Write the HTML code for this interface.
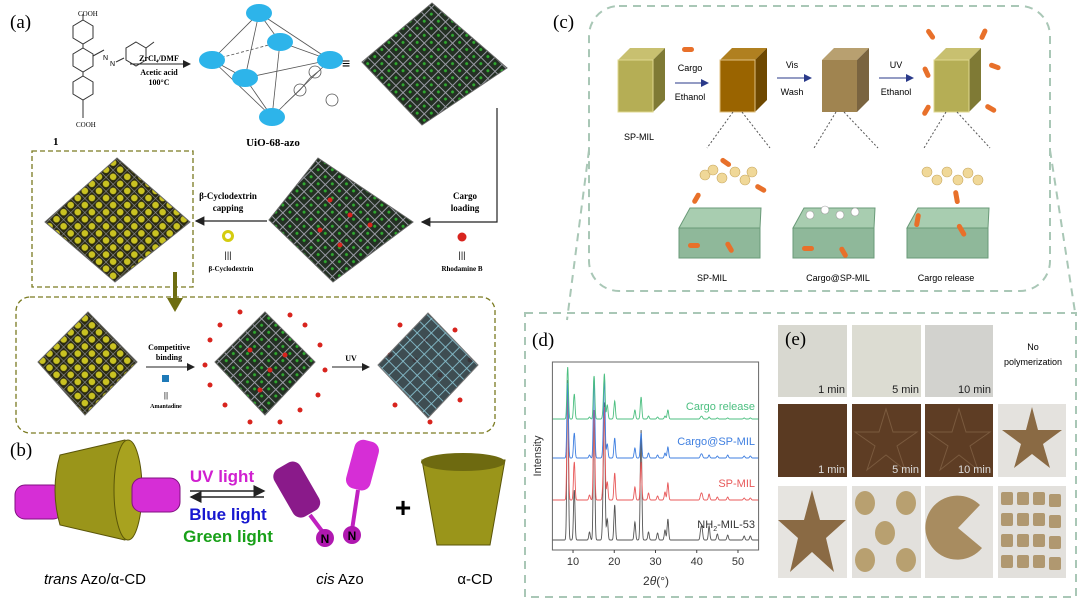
<!DOCTYPE html>
<html><head><meta charset="utf-8"><style>
html,body{margin:0;padding:0;background:#fff;}
svg{display:block;font-family:"Liberation Sans",sans-serif;}
.serif{font-family:"Liberation Serif",serif;}
</style></head><body>
<svg id="fig" width="1080" height="601" viewBox="0 0 1080 601" xmlns="http://www.w3.org/2000/svg">
<defs>
<pattern id="lat" width="10" height="10" patternUnits="userSpaceOnUse" patternTransform="rotate(45)">
<rect width="10" height="10" fill="#243024"/><path d="M0 0H10M0 0V10" stroke="#9a9aa5" stroke-width="2"/><circle cx="5" cy="5" r="1.5" fill="#2faa2f"/>
</pattern>
<pattern id="latY" width="10" height="10" patternUnits="userSpaceOnUse" patternTransform="rotate(45)">
<rect width="10" height="10" fill="#2a2a10"/><path d="M0 0H10M0 0V10" stroke="#8a8a95" stroke-width="1.2"/><circle cx="5" cy="5" r="3.3" fill="#c9c222"/>
</pattern>
<pattern id="latC" width="10" height="10" patternUnits="userSpaceOnUse" patternTransform="rotate(45)">
<rect width="10" height="10" fill="#2a3a40"/><path d="M0 0H10M0 0V10" stroke="#7ab8c8" stroke-width="1.8"/>
</pattern>
<marker id="ah" markerWidth="8" markerHeight="8" refX="7" refY="4" orient="auto"><path d="M0 0L8 4L0 8z" fill="#222"/></marker>
<marker id="ahb" markerWidth="8" markerHeight="8" refX="7" refY="4" orient="auto"><path d="M0 0L8 4L0 8z" fill="#2a3a8a"/></marker>
</defs>

<!-- PANEL A -->
<g>
<text x="10" y="28" class="serif" font-size="19">(a)</text>
<g stroke="#333" fill="none" stroke-width="1">
<polygon points="83,20 93,26 93,38 83,44 73,38 73,26"/>
<polygon points="83,48 93,54 93,66 83,72 73,66 73,54"/>
<polygon points="83,76 93,82 93,94 83,100 73,94 73,82"/>
<line x1="83" y1="14" x2="83" y2="20"/><line x1="83" y1="44" x2="83" y2="48"/><line x1="83" y1="72" x2="83" y2="76"/><line x1="83" y1="100" x2="83" y2="118"/>
<line x1="93" y1="56" x2="104" y2="50"/><line x1="116" y1="62" x2="124" y2="58"/>
<polygon points="136,48 146,54 146,66 136,72 126,66 126,54" transform="translate(0,-6)"/>
<line x1="146" y1="48" x2="154" y2="42"/>
</g>
<text x="78" y="16" font-size="7" class="serif">COOH</text>
<text x="76" y="127" font-size="7" class="serif">COOH</text>
<text x="103" y="60" font-size="7">N</text><text x="110" y="66" font-size="7">N</text>
<text x="53" y="145" class="serif" font-size="11" font-weight="bold">1</text>
<text x="159" y="61" class="serif" font-size="8" font-weight="bold" text-anchor="middle">ZrCl₄/DMF</text>
<line x1="130" y1="64" x2="190" y2="64" stroke="#222" marker-end="url(#ah)"/>
<text x="159" y="75" class="serif" font-size="8" font-weight="bold" text-anchor="middle">Acetic acid</text>
<text x="159" y="85" class="serif" font-size="8" font-weight="bold" text-anchor="middle">100°C</text>
<g stroke="#555" stroke-width="0.8">
<line x1="259" y1="13" x2="212" y2="60"/><line x1="259" y1="13" x2="330" y2="60"/><line x1="259" y1="13" x2="245" y2="78"/><line x1="259" y1="13" x2="280" y2="42"/>
<line x1="272" y1="117" x2="212" y2="60"/><line x1="272" y1="117" x2="330" y2="60"/><line x1="272" y1="117" x2="245" y2="78"/><line x1="272" y1="117" x2="280" y2="42"/>
<line x1="212" y1="60" x2="245" y2="78"/><line x1="245" y1="78" x2="330" y2="60"/><line x1="212" y1="60" x2="280" y2="42" stroke-dasharray="3,2"/><line x1="280" y1="42" x2="330" y2="60"/>
<g fill="#2db4ea" stroke="none">
<ellipse cx="259" cy="13" rx="13" ry="9"/><ellipse cx="280" cy="42" rx="13" ry="9"/><ellipse cx="212" cy="60" rx="13" ry="9"/><ellipse cx="330" cy="60" rx="13" ry="9"/><ellipse cx="245" cy="78" rx="13" ry="9"/><ellipse cx="272" cy="117" rx="13" ry="9"/>
</g>
<path d="M285 104 L300 90 L310 78 L320 70" fill="none"/><circle cx="300" cy="90" r="6" fill="none"/><circle cx="315" cy="72" r="6" fill="none"/><circle cx="332" cy="100" r="6" fill="none"/>
</g>
<text x="273" y="146" class="serif" font-size="11" font-weight="bold" text-anchor="middle">UiO-68-azo</text>
<text x="342" y="68" font-size="14">≡</text>
<polygon points="432,3 507,68 422,125 362,62" fill="url(#lat)" stroke="#666"/>
<polyline points="497,108 497,222 422,222" fill="none" stroke="#222" stroke-width="1.2" marker-end="url(#ah)"/>
<text x="465" y="199" class="serif" font-size="9" font-weight="bold" text-anchor="middle">Cargo</text>
<text x="465" y="211" class="serif" font-size="9" font-weight="bold" text-anchor="middle">loading</text>
<circle cx="462" cy="237" r="4.5" fill="#d8241e"/>
<text x="462" y="258" font-size="9" text-anchor="middle">|||</text>
<text x="462" y="271" class="serif" font-size="7" font-weight="bold" text-anchor="middle">Rhodamine B</text>
<polygon points="318,158 413,222 333,282 269,220" fill="url(#lat)" stroke="#666"/>
<g fill="#d8241e"><circle cx="330" cy="200" r="2.5"/><circle cx="350" cy="215" r="2.5"/><circle cx="320" cy="230" r="2.5"/><circle cx="370" cy="225" r="2.5"/><circle cx="340" cy="245" r="2.5"/></g>
<line x1="267" y1="221" x2="196" y2="221" stroke="#222" stroke-width="1.2" marker-end="url(#ah)"/>
<text x="228" y="199" class="serif" font-size="9" font-weight="bold" text-anchor="middle">β-Cyclodextrin</text>
<text x="228" y="211" class="serif" font-size="9" font-weight="bold" text-anchor="middle">capping</text>
<circle cx="228" cy="236" r="4.5" fill="none" stroke="#d4cc10" stroke-width="3"/>
<text x="228" y="258" font-size="9" text-anchor="middle">|||</text>
<text x="231" y="271" class="serif" font-size="7" font-weight="bold" text-anchor="middle">β-Cyclodextrin</text>
<rect x="32" y="151" width="161" height="136" fill="none" stroke="#7a7a20" stroke-width="1.3" stroke-dasharray="5,3"/>
<polygon points="117,158 190,222 115,282 45,222" fill="url(#latY)" stroke="#666"/>
<line x1="175" y1="272" x2="175" y2="300" stroke="#6d6d10" stroke-width="4"/>
<polygon points="167,298 183,298 175,312" fill="#6d6d10"/>
<rect x="16" y="297" width="479" height="136" rx="14" fill="none" stroke="#7a7a20" stroke-width="1.3" stroke-dasharray="5,3"/>
<polygon points="88,312 137,362 85,415 38,362" fill="url(#latY)" stroke="#666"/>
<line x1="146" y1="367" x2="194" y2="367" stroke="#222" marker-end="url(#ah)"/>
<text x="169" y="350" class="serif" font-size="8" font-weight="bold" text-anchor="middle">Competitive</text>
<text x="169" y="360" class="serif" font-size="8" font-weight="bold" text-anchor="middle">binding</text>
<rect x="162" y="375" width="7" height="7" fill="#1e7ab8"/>
<text x="166" y="398" font-size="8" text-anchor="middle">||</text>
<text x="166" y="408" class="serif" font-size="6" font-weight="bold" text-anchor="middle">Amantadine</text>
<polygon points="265,312 315,362 265,415 215,362" fill="url(#lat)" stroke="#666"/>
<g fill="#d8241e">
<circle cx="210" cy="340" r="2.5"/><circle cx="220" cy="325" r="2.5"/><circle cx="240" cy="312" r="2.5"/><circle cx="290" cy="315" r="2.5"/><circle cx="305" cy="325" r="2.5"/><circle cx="320" cy="345" r="2.5"/><circle cx="325" cy="370" r="2.5"/><circle cx="318" cy="395" r="2.5"/><circle cx="300" cy="410" r="2.5"/><circle cx="280" cy="422" r="2.5"/><circle cx="250" cy="422" r="2.5"/><circle cx="225" cy="405" r="2.5"/><circle cx="210" cy="385" r="2.5"/><circle cx="205" cy="365" r="2.5"/><circle cx="250" cy="350" r="2.5"/><circle cx="270" cy="370" r="2.5"/><circle cx="260" cy="390" r="2.5"/><circle cx="285" cy="355" r="2.5"/>
<circle cx="390" cy="355" r="2.5"/><circle cx="400" cy="325" r="2.5"/><circle cx="455" cy="330" r="2.5"/><circle cx="470" cy="360" r="2.5"/><circle cx="460" cy="400" r="2.5"/><circle cx="430" cy="422" r="2.5"/><circle cx="395" cy="405" r="2.5"/><circle cx="415" cy="360" r="2.5"/><circle cx="440" cy="375" r="2.5"/><circle cx="425" cy="340" r="2.5"/></g>
<line x1="332" y1="367" x2="369" y2="367" stroke="#222" marker-end="url(#ah)"/>
<text x="351" y="361" class="serif" font-size="8" font-weight="bold" text-anchor="middle">UV</text>
<polygon points="428,313 478,365 428,418 378,365" fill="url(#latC)" stroke="#666" opacity="0.9"/>
</g>

<!-- PANEL B -->
<g>
<text x="10" y="456" class="serif" font-size="19">(b)</text>
<rect x="15" y="485" width="48" height="34" rx="10" fill="#d62ed6" stroke="#801080"/>
<path d="M60 455 L125 440 Q145 490 125 540 L60 525 Q50 490 60 455 Z" fill="#9a951a" stroke="#5a5508"/>
<ellipse cx="128" cy="490" rx="14" ry="50" fill="#a8a21f" stroke="#5a5508"/>
<rect x="132" y="478" width="48" height="34" rx="10" fill="#d62ed6" stroke="#801080"/>
<text x="222" y="482" font-size="17" font-weight="bold" fill="#d020d0" text-anchor="middle">UV light</text>
<line x1="190" y1="491" x2="264" y2="491" stroke="#222" stroke-width="1.5" marker-end="url(#ah)"/>
<line x1="264" y1="497" x2="191" y2="497" stroke="#222" stroke-width="1.5" marker-end="url(#ah)"/>
<text x="228" y="520" font-size="17" font-weight="bold" fill="#1818d0" text-anchor="middle">Blue light</text>
<text x="228" y="542" font-size="17" font-weight="bold" fill="#18a018" text-anchor="middle">Green light</text>
<g>
<rect x="282" y="462" width="30" height="55" rx="9" fill="#8a1a8a" transform="rotate(-30 297 490)"/>
<rect x="350" y="440" width="25" height="50" rx="9" fill="#d62ed6" transform="rotate(15 362 465)"/>
<line x1="310" y1="515" x2="325" y2="535" stroke="#c020c0" stroke-width="4"/><line x1="358" y1="490" x2="352" y2="530" stroke="#c020c0" stroke-width="4"/>
<circle cx="325" cy="538" r="9" fill="#b018b0"/><circle cx="352" cy="535" r="9" fill="#b018b0"/>
<text x="325" y="543" font-size="12" font-weight="bold" text-anchor="middle">N</text><text x="352" y="540" font-size="12" font-weight="bold" text-anchor="middle">N</text>
</g>
<text x="403" y="517" font-size="28" font-weight="bold" text-anchor="middle">+</text>
<path d="M422 460 L505 460 L490 545 L437 545 Z" fill="#9a951a" stroke="#5a5508"/>
<ellipse cx="463" cy="462" rx="42" ry="9" fill="#6e6a10"/>
<text x="95" y="584" font-size="15" text-anchor="middle"><tspan font-style="italic">trans</tspan> Azo/α-CD</text>
<text x="340" y="584" font-size="15" text-anchor="middle"><tspan font-style="italic">cis</tspan> Azo</text>
<text x="475" y="584" font-size="15" text-anchor="middle">α-CD</text>
</g>

<!-- PANEL C -->
<g>
<text x="553" y="28" class="serif" font-size="19">(c)</text>
<rect x="589" y="6" width="461" height="285" rx="30" fill="none" stroke="#a9c7b6" stroke-width="2" stroke-dasharray="8,6"/>
<path d="M589 150 L567 320 M1050 150 L1075 312" stroke="#a9c7b6" stroke-width="2" stroke-dasharray="8,6" fill="none"/>
<g><polygon points="618,60 630,48 665,48 653,60" fill="#c8c070"/><polygon points="653,60 665,48 665,100 653,112" fill="#7f7a35"/><rect x="618" y="60" width="35" height="52" fill="#b5ae55" stroke="#e0d890"/></g>
<g><polygon points="720,60 732,48 767,48 755,60" fill="#b08020"/><polygon points="755,60 767,48 767,100 755,112" fill="#6e4800"/><rect x="720" y="60" width="35" height="52" fill="#9a6400" stroke="#e0c080"/></g>
<g><polygon points="822,60 834,48 869,48 857,60" fill="#b8a070"/><polygon points="857,60 869,48 869,100 857,112" fill="#7a6440"/><rect x="822" y="60" width="35" height="52" fill="#a08450"/></g>
<g><polygon points="934,60 946,48 981,48 969,60" fill="#c8c070"/><polygon points="969,60 981,48 981,100 969,112" fill="#7f7a35"/><rect x="934" y="60" width="35" height="52" fill="#b5ae55" stroke="#e0d890"/></g>
<g fill="#e8702a"><rect x="682" y="47" width="12" height="5" rx="2.5"/>
<rect x="925" y="32" width="12" height="5" rx="2.5" transform="rotate(55 931 34)"/><rect x="977" y="32" width="12" height="5" rx="2.5" transform="rotate(-65 983 34)"/><rect x="989" y="64" width="12" height="5" rx="2.5" transform="rotate(20 995 66)"/><rect x="921" y="70" width="12" height="5" rx="2.5" transform="rotate(65 927 72)"/><rect x="920" y="108" width="12" height="5" rx="2.5" transform="rotate(-60 926 110)"/><rect x="985" y="106" width="12" height="5" rx="2.5" transform="rotate(30 991 108)"/></g>
<text x="690" y="71" font-size="9" text-anchor="middle">Cargo</text>
<line x1="675" y1="83" x2="708" y2="83" stroke="#2a3a8a" marker-end="url(#ahb)"/>
<text x="690" y="100" font-size="9" text-anchor="middle">Ethanol</text>
<text x="792" y="68" font-size="9" text-anchor="middle">Vis</text>
<line x1="777" y1="78" x2="811" y2="78" stroke="#2a3a8a" marker-end="url(#ahb)"/>
<text x="792" y="95" font-size="9" text-anchor="middle">Wash</text>
<text x="896" y="68" font-size="9" text-anchor="middle">UV</text>
<line x1="879" y1="78" x2="913" y2="78" stroke="#2a3a8a" marker-end="url(#ahb)"/>
<text x="896" y="95" font-size="9" text-anchor="middle">Ethanol</text>
<text x="639" y="140" font-size="9" text-anchor="middle">SP-MIL</text>
<g stroke="#555" stroke-dasharray="2,2" fill="none"><path d="M733 112 L707 148 M742 112 L770 148 M836 112 L814 148 M844 112 L878 148 M946 112 L924 148 M957 112 L990 148"/></g>
<g fill="#8fb89a" stroke="#6a9a78">
<polygon points="679,228 760,228 760,258 679,258"/><polygon points="679,228 690,208 761,208 760,228" fill="#a8cdb0"/>
<polygon points="793,228 874,228 874,258 793,258"/><polygon points="793,228 804,208 875,208 874,228" fill="#a8cdb0"/>
<polygon points="907,228 988,228 988,258 907,258"/><polygon points="907,228 918,208 989,208 988,228" fill="#a8cdb0"/>
</g>
<g fill="#f0d898" stroke="#c8a860" stroke-width="0.6"><circle cx="705" cy="175" r="5"/><circle cx="713" cy="170" r="5"/><circle cx="722" cy="178" r="5"/><circle cx="735" cy="172" r="5"/><circle cx="745" cy="180" r="5"/><circle cx="752" cy="172" r="5"/>
<circle cx="927" cy="172" r="5"/><circle cx="937" cy="180" r="5"/><circle cx="947" cy="172" r="5"/><circle cx="958" cy="180" r="5"/><circle cx="968" cy="173" r="5"/><circle cx="978" cy="180" r="5"/></g>
<g fill="#fff" stroke="#999" stroke-width="0.6"><circle cx="810" cy="215" r="4"/><circle cx="825" cy="210" r="4"/><circle cx="840" cy="215" r="4"/><circle cx="855" cy="212" r="4"/></g>
<g fill="#e8702a"><rect x="720" y="160" width="12" height="5" rx="2.5" transform="rotate(35 726 162)"/><rect x="690" y="196" width="12" height="5" rx="2.5" transform="rotate(-60 696 198)"/><rect x="755" y="186" width="12" height="5" rx="2.5" transform="rotate(30 761 188)"/><rect x="688" y="243" width="12" height="5" rx="2.5"/><rect x="724" y="245" width="12" height="5" rx="2.5" transform="rotate(60 730 247)"/><rect x="802" y="246" width="12" height="5" rx="2.5"/><rect x="838" y="250" width="12" height="5" rx="2.5" transform="rotate(60 844 252)"/><rect x="950" y="195" width="14" height="5" rx="2.5" transform="rotate(80 957 197)"/><rect x="910" y="218" width="14" height="5" rx="2.5" transform="rotate(-80 917 220)"/><rect x="955" y="228" width="14" height="5" rx="2.5" transform="rotate(60 962 230)"/></g>
<text x="712" y="281" font-size="9" text-anchor="middle">SP-MIL</text>
<text x="838" y="281" font-size="9" text-anchor="middle">Cargo@SP-MIL</text>
<text x="946" y="281" font-size="9" text-anchor="middle">Cargo release</text>
</g>

<!-- PANEL D/E frame -->
<rect x="525" y="313" width="551" height="284" fill="none" stroke="#a9c7b6" stroke-width="2" stroke-dasharray="8,6"/>
<text x="532" y="346" class="serif" font-size="19">(d)</text>
<g id="chart"></g>

<!-- PANEL E -->
<g>
<rect x="778" y="325" width="69" height="72" fill="#d8d8d0"/>
<rect x="852" y="325" width="69" height="72" fill="#dcdcd2"/>
<rect x="925" y="325" width="68" height="72" fill="#d2d2ce"/>
<text x="785" y="345" class="serif" font-size="19">(e)</text>
<g font-size="11" fill="#222" text-anchor="end"><text x="845" y="393">1 min</text><text x="919" y="393">5 min</text><text x="991" y="393">10 min</text></g>
<text x="1033" y="350" font-size="9" text-anchor="middle">No</text>
<text x="1033" y="365" font-size="9" text-anchor="middle">polymerization</text>
<rect x="778" y="404" width="69" height="73" fill="#5a3a22"/>
<rect x="852" y="404" width="69" height="73" fill="#5e3d24"/>
<rect x="925" y="404" width="68" height="73" fill="#5e3d24"/>
<polygon points="886,409 893,432 917,432 897,446 905,470 886,455 867,470 875,446 855,432 879,432" fill="none" stroke="#7a5a3e"/>
<polygon points="959,409 966,432 990,432 970,446 978,470 959,455 940,470 948,446 928,432 952,432" fill="none" stroke="#7a5a3e"/>
<g font-size="11" fill="#ddd" text-anchor="end"><text x="845" y="473">1 min</text><text x="919" y="473">5 min</text><text x="991" y="473">10 min</text></g>
<rect x="998" y="404" width="68" height="73" fill="#e4e2de"/>
<polygon points="1032,407 1038,430 1062,430 1043,444 1050,468 1032,454 1014,468 1021,444 1002,430 1026,430" fill="#8a6a44"/>
<rect x="778" y="486" width="69" height="92" fill="#e6e4e0"/>
<polygon points="812,490 820,520 846,520 826,538 834,572 812,552 790,572 798,538 778,520 804,520" fill="#8a6a44"/>
<rect x="852" y="486" width="69" height="92" fill="#e2e0dc"/>
<g fill="#b8a070"><ellipse cx="865" cy="503" rx="10" ry="12"/><ellipse cx="906" cy="503" rx="10" ry="12"/><ellipse cx="885" cy="533" rx="10" ry="12"/><ellipse cx="865" cy="560" rx="10" ry="12"/><ellipse cx="906" cy="560" rx="10" ry="12"/></g>
<rect x="925" y="486" width="68" height="92" fill="#e4e2de"/>
<path d="M980 505 A 32 32 0 1 0 982 548 L958 528 Z" fill="#a88c60"/>
<rect x="998" y="486" width="68" height="92" fill="#e2e0dc"/>
<g fill="#b09870">
<rect x="1001" y="492" width="12" height="13" rx="2"/><rect x="1017" y="492" width="12" height="13" rx="2"/><rect x="1033" y="492" width="12" height="13" rx="2"/><rect x="1049" y="494" width="12" height="13" rx="2"/>
<rect x="1001" y="513" width="12" height="13" rx="2"/><rect x="1017" y="513" width="12" height="13" rx="2"/><rect x="1033" y="513" width="12" height="13" rx="2"/><rect x="1049" y="515" width="12" height="13" rx="2"/>
<rect x="1001" y="534" width="12" height="13" rx="2"/><rect x="1017" y="534" width="12" height="13" rx="2"/><rect x="1033" y="534" width="12" height="13" rx="2"/><rect x="1049" y="536" width="12" height="13" rx="2"/>
<rect x="1001" y="555" width="12" height="13" rx="2"/><rect x="1017" y="555" width="12" height="13" rx="2"/><rect x="1033" y="555" width="12" height="13" rx="2"/><rect x="1049" y="557" width="12" height="13" rx="2"/></g>
</g>
</svg>
<script>
const peakPositions = [8.7,10.3,14,15.1,17.3,17.6,18.3,20.1,25,26.5,28.3,30.5,32.3,33,41,41.3,43,45,47.5,51.5,53];
const blackHeights = [160,50,8,130,30,130,21,35,18,110,8,7,10,21,10,10,14,6,5,4,4];
const redHeights   = [110,38,5,90,12,90,18,27,13,38,7,4,8,17,5,5,6,3,3,2,2];
const blueHeights  = [75,25,3,80,8,80,14,20,10,25,5,3,5,11,3,3,3,2,3,2,2];
const greenHeights = [52,25,2,43,5,44,14,18,9,22,3,2,3,9,2,2,2,1,1,1,1];
const seriesBaselines = [10,50,92,131];
const seriesNames = ["NH2-MIL-53","SP-MIL","Cargo@SP-MIL","Cargo release"];
const xTicks = [10,20,30,40,50];
const NS="http://www.w3.org/2000/svg";
const X0=552.4,X1=758.6,Y0=550,Y1=362,xmin=5,xmax=55;
function xs(v){return X0+(v-xmin)/(xmax-xmin)*(X1-X0);}
function ys(v){return Y0-v;}
const g=document.getElementById('chart');
function mk(t,a){const e=document.createElementNS(NS,t);for(const k in a)e.setAttribute(k,a[k]);g.appendChild(e);return e;}
const clip=document.createElementNS(NS,'clipPath');clip.setAttribute('id','pc');
const cr=document.createElementNS(NS,'rect');cr.setAttribute('x',X0);cr.setAttribute('y',Y1);cr.setAttribute('width',X1-X0);cr.setAttribute('height',Y0-Y1);clip.appendChild(cr);g.appendChild(clip);
const colors=["#555","#e8595a","#3f7fe0","#4cbf80"];
const heights=[blackHeights,redHeights,blueHeights,greenHeights];
for(let s=0;s<4;s++){
  let d='';
  for(let x=xmin;x<=xmax;x+=0.05){
    let v=seriesBaselines[s];
    for(let i=0;i<peakPositions.length;i++){const dx=(x-peakPositions[i])/0.18;v+=heights[s][i]*Math.exp(-dx*dx/2);}
    d+=(d?'L':'M')+xs(x).toFixed(1)+' '+ys(v).toFixed(1);
  }
  const p=mk('path',{d:d,fill:'none',stroke:colors[s],'stroke-width':0.9,'clip-path':'url(#pc)'});
  
  
}
const fr=mk('rect',{x:X0,y:Y1,width:X1-X0,height:Y0-Y1,fill:'none',stroke:'#666','stroke-width':1});


xTicks.forEach(t=>{
  mk('line',{x1:xs(t),x2:xs(t),y1:Y0,y2:Y0+3,stroke:'#444'});
  const tx=mk('text',{x:xs(t),y:Y0+15,'font-size':11,'text-anchor':'middle',fill:'#333'});tx.textContent=t;
  
  
});
const lblY=[528,487,445,410],lblCol=["#333","#e8595a","#3f7fe0","#4cbf80"];
for(let s=1;s<4;s++){const t=mk('text',{x:755,y:lblY[s],'font-size':11,'text-anchor':'end',fill:lblCol[s]});t.textContent=seriesNames[s];

}
const tb=mk('text',{x:755,y:lblY[0],'font-size':11,'text-anchor':'end',fill:'#333'});
tb.innerHTML='NH<tspan font-size="7" dy="3">2</tspan><tspan dy="-3">-MIL-53</tspan>';


const yt=mk('text',{x:0,y:0,'font-size':11,'text-anchor':'middle',fill:'#333',transform:'translate(541,456) rotate(-90)'});yt.textContent='Intensity';


const xt=mk('text',{x:656,y:585,'font-size':12,'text-anchor':'middle',fill:'#333'});xt.innerHTML='2<tspan font-style="italic">θ</tspan>(°)';


</script>
</body></html>
